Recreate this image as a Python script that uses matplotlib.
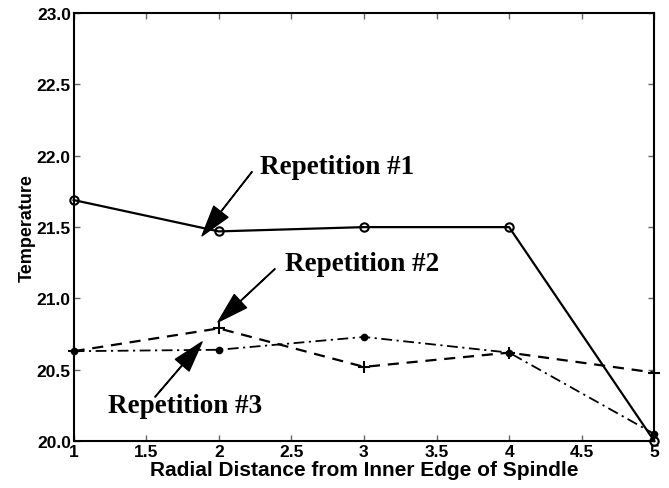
import matplotlib
matplotlib.use("Agg")
import matplotlib.pyplot as plt

x = [1, 2, 3, 4, 5]
rep1 = [21.69, 21.47, 21.50, 21.50, 20.00]
rep2 = [20.63, 20.79, 20.52, 20.62, 20.48]
rep3 = [20.63, 20.64, 20.73, 20.62, 20.05]
xticks = [1, 1.5, 2, 2.5, 3, 3.5, 4, 4.5, 5]
xticklabels = ["1", "1.5", "2", "2.5", "3", "3.5", "4", "4.5", "5"]
yticks = [20.0, 20.5, 21.0, 21.5, 22.0, 22.5, 23.0]
yticklabels = ["20.0", "20.5", "21.0", "21.5", "22.0", "22.5", "23.0"]

fig = plt.figure(figsize=(6.69, 4.89), dpi=100)
ax = fig.add_axes([0.110, 0.096, 0.868, 0.875])

ax.plot(x, rep1, '-', color='black', lw=1.6, marker='o', ms=6, mfc='none', mew=1.5, clip_on=False, zorder=3)
ax.plot(x, rep2, '--', color='black', lw=1.6, marker='+', ms=8, mew=1.5, clip_on=False, dashes=(5, 3.5), zorder=3)
ax.plot(x, rep3, color='black', lw=1.3, marker='o', ms=4.5, clip_on=False, dashes=(6, 2.5, 1.2, 2.5), zorder=3)

ax.set_xlim(1, 5)
ax.set_ylim(20, 23)
ax.set_xticks(xticks)
ax.set_xticklabels(xticklabels)
ax.set_yticks(yticks)
ax.set_yticklabels(yticklabels)
ax.tick_params(direction='in', length=4, width=1, color='#666666', top=True, right=True,
               labelsize=12.5, pad=2)
ax.tick_params(axis='y', pad=2)
for lab in ax.get_xticklabels() + ax.get_yticklabels():
    lab.set_fontweight('bold')
    lab.set_family('Liberation Sans')
for s in ax.spines.values():
    s.set_linewidth(1.5)

ax.set_xlabel("Radial Distance from Inner Edge of Spindle", fontsize=15, fontweight='bold',
              family='Liberation Sans', labelpad=1)
ax.set_ylabel("Temperature", fontsize=13, fontweight='bold', family='Liberation Sans', labelpad=1)

arrow = dict(facecolor='black', edgecolor='black', width=0.4, headwidth=13, headlength=22, shrink=0)
tfont = dict(fontsize=19.5, fontweight='bold', family='Liberation Serif', ha='left', va='center')

ax.annotate('', xy=(1.885, 21.439), xytext=(2.229, 21.888), arrowprops=arrow)
ax.text(2.284, 21.923, "Repetition #1", **tfont)
ax.annotate('', xy=(1.995, 20.835), xytext=(2.387, 21.207), arrowprops=arrow)
ax.text(2.456, 21.242, "Repetition #2", **tfont)
ax.annotate('', xy=(1.885, 20.695), xytext=(1.561, 20.309), arrowprops=arrow)
ax.text(1.238, 20.246, "Repetition #3", **tfont)

fig.savefig("out.png", dpi=100)
